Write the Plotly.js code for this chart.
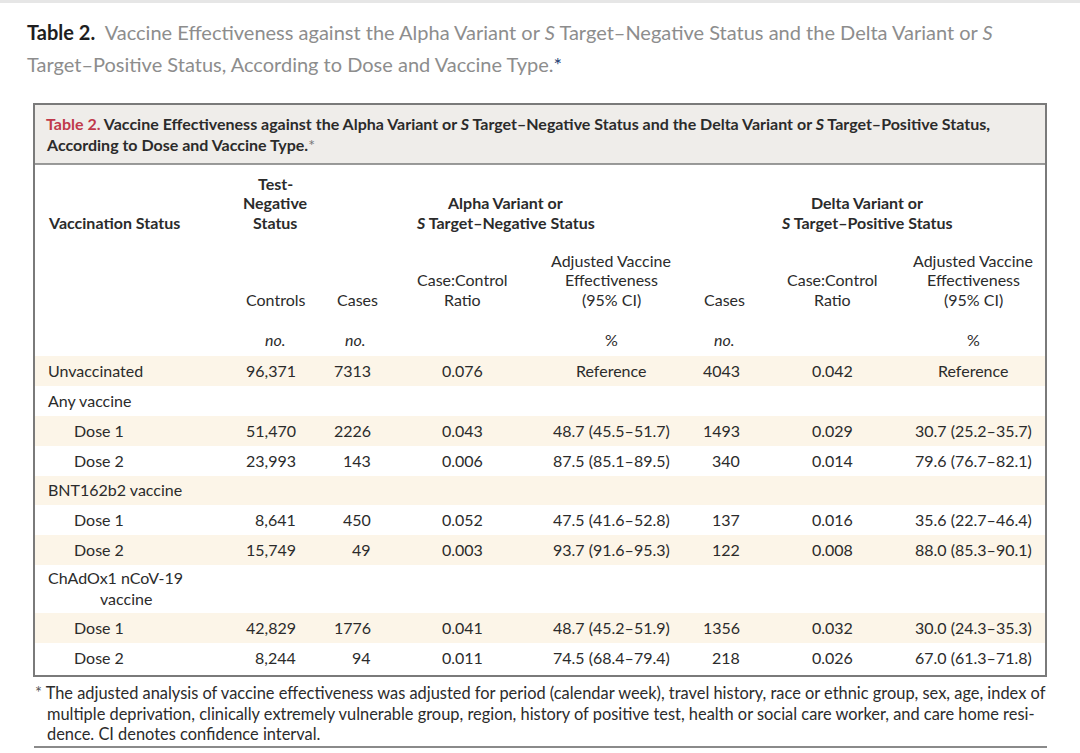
<!DOCTYPE html>
<html>
<head>
<meta charset="utf-8">
<script src="https://cdn.plot.ly/plotly-3.0.1.min.js"></script>
<style>html,body{margin:0;padding:0;background:#fff;}#chart{width:1080px;height:753px;}</style>
</head>
<body>
<div id="chart"></div>
<script>
// ---------- DATA ----------
var rowLabels = ["Unvaccinated","Any vaccine","Dose 1","Dose 2","BNT162b2 vaccine","Dose 1","Dose 2","ChAdOx1 nCoV-19|vaccine","Dose 1","Dose 2"];
var rowIsDose = [false,false,true,true,false,true,true,false,true,true];
var controls   = [96371,null,51470,23993,null,8641,15749,null,42829,8244];
var alphaCases = [7313,null,2226,143,null,450,49,null,1776,94];
var alphaRatio = [0.076,null,0.043,0.006,null,0.052,0.003,null,0.041,0.011];
var alphaVE    = ["ref",null,48.7,87.5,null,47.5,93.7,null,48.7,74.5];
var alphaLo    = [null,null,45.5,85.1,null,41.6,91.6,null,45.2,68.4];
var alphaHi    = [null,null,51.7,89.5,null,52.8,95.3,null,51.9,79.4];
var deltaCases = [4043,null,1493,340,null,137,122,null,1356,218];
var deltaRatio = [0.042,null,0.029,0.014,null,0.016,0.008,null,0.032,0.026];
var deltaVE    = ["ref",null,30.7,79.6,null,35.6,88.0,null,30.0,67.0];
var deltaLo    = [null,null,25.2,76.7,null,22.7,85.3,null,24.3,61.3];
var deltaHi    = [null,null,35.7,82.1,null,46.4,90.1,null,35.3,71.8];

var pageTitle1 = "Vaccine Effectiveness against the Alpha Variant or <i>S</i> Target–Negative Status and the Delta Variant or <i>S</i>";
var pageTitle2 = "Target–Positive Status, According to Dose and Vaccine Type.";
var boxTitle1 = "Vaccine Effectiveness against the Alpha Variant or <i>S</i> Target–Negative Status and the Delta Variant or <i>S</i> Target–Positive Status,";
var boxTitle2 = "According to Dose and Vaccine Type.";
var footnote = ["The adjusted analysis of vaccine effectiveness was adjusted for period (calendar week), travel history, race or ethnic group, sex, age, index of",
  "multiple deprivation, clinically extremely vulnerable group, region, history of positive test, health or social care worker, and care home resi-",
  "dence. CI denotes confidence interval."];

// ---------- LAYOUT HELPERS ----------
var FONT = "Lato, 'Open Sans', sans-serif";
var TXT = "#2b2b2b";
var FS = 16;
var DY = -1;
var rowTop = [356,386,416,446,476,505,535,565,613,643];
var rowBottom = 673;

function fmtComma(v){ return v==null?"":v.toLocaleString("en-US"); }
function fmtPlain(v){ return v==null?"":String(v); }
function fmtRatio(v){ return v==null?"":v.toFixed(3); }
function fmtVE(v,lo,hi){
  if(v==null) return "";
  if(v==="ref") return "Reference";
  return v.toFixed(1)+" ("+lo.toFixed(1)+"–"+hi.toFixed(1)+")";
}

var ann = [];
var shapes = [];
function A(x,y,text,opts){
  var o = {xref:"x",yref:"y",x:x,y:y+DY,text:text,showarrow:false,xanchor:"left",yanchor:"middle",
    font:{family:FONT,size:FS,color:TXT},align:"left"};
  for(var k in opts){ if(k==="font"){ for(var f in opts.font) o.font[f]=opts.font[f]; } else o[k]=opts[k]; }
  ann.push(o);
}
function M(x,yLast,lines,opts){ // multi-line, bottom-aligned, 19.5px spacing
  for(var i=0;i<lines.length;i++){
    A(x,yLast-(lines.length-1-i)*19.5,lines[i],opts);
  }
}

// page top grey strip
shapes.push({type:"rect",xref:"x",yref:"y",x0:0,x1:1080,y0:0,y1:3,fillcolor:"#e6e6e6",line:{width:0},layer:"below"});

// page title
A(25,33,"<b>Table 2.</b>  <span style='color:#8d8d8d'>"+pageTitle1+"</span>",{font:{size:20,color:"#1e1e1e"}});
A(25,65,"<span style='color:#8d8d8d'>"+pageTitle2+"</span><span style='color:#1f3f73'>*</span>",{font:{size:20}});

// box header band
shapes.push({type:"rect",xref:"x",yref:"y",x0:34,x1:1046,y0:104,y1:164,fillcolor:"#efedea",line:{width:0},layer:"below"});
// striped rows
for(var i=0;i<rowTop.length;i++){
  if(i%2===0){
    var yb = (i+1<rowTop.length)?rowTop[i+1]:rowBottom;
    shapes.push({type:"rect",xref:"x",yref:"y",x0:35,x1:1045,y0:rowTop[i],y1:yb,fillcolor:"#fcf5e8",line:{width:0},layer:"below"});
  }
}
// box outline & header rule
shapes.push({type:"rect",xref:"x",yref:"y",x0:34,x1:1046,y0:104,y1:676,fillcolor:"rgba(0,0,0,0)",line:{color:"#7a7a7a",width:2}});
shapes.push({type:"line",xref:"x",yref:"y",x0:34,x1:1046,y0:164,y1:164,line:{color:"#7a7a7a",width:1.5}});
// footnote rule
shapes.push({type:"line",xref:"x",yref:"y",x0:34,x1:1047,y0:747,y1:747,line:{color:"#8a8a8a",width:2}});

// box title
A(44,124,"<b><span style='color:#c0394b'>Table 2.</span> "+boxTitle1+"</b>",{font:{size:16}});
A(44,145,"<b>"+boxTitle2+"</b><span style='color:#777'>*</span>",{font:{size:16}});

// column headers
A(46,223,"<b>Vaccination Status</b>");
M(275,223,["<b>Test-</b>","<b>Negative</b>","<b>Status</b>"],{xanchor:"center"});
M(505,223,["<b>Alpha Variant or</b>","<b><i>S</i> Target–Negative Status</b>"],{xanchor:"center"});
M(867,223,["<b>Delta Variant or</b>","<b><i>S</i> Target–Positive Status</b>"],{xanchor:"center"});

var sub = [[275,["Controls"]],[357,["Cases"]],[462,["Case:Control","Ratio"]],[611,["Adjusted Vaccine","Effectiveness","(95% CI)"]],
           [724,["Cases"]],[832,["Case:Control","Ratio"]],[973,["Adjusted Vaccine","Effectiveness","(95% CI)"]]];
sub.forEach(function(s){ M(s[0],300,s[1],{xanchor:"center"}); });
var units = [[275,"<i>no.</i>"],[355,"<i>no.</i>"],[611,"%"],[724,"<i>no.</i>"],[973,"%"]];
units.forEach(function(u){ A(u[0],340,u[1],{xanchor:"center"}); });

// body rows
for(var r=0;r<rowLabels.length;r++){
  var yb2 = (r+1<rowTop.length)?rowTop[r+1]:rowBottom;
  var yc = (rowTop[r]+yb2)/2;
  var parts = rowLabels[r].split("|");
  if(parts.length>1){
    A(46,yc-11,parts[0]);
    A(98,yc+10,parts[1]);
  } else {
    A(rowIsDose[r]?72:46,yc,parts[0]);
  }
  A(298,yc,fmtComma(controls[r]),{xanchor:"right"});
  A(373,yc,fmtPlain(alphaCases[r]),{xanchor:"right"});
  A(462,yc,fmtRatio(alphaRatio[r]),{xanchor:"center"});
  A(611,yc,fmtVE(alphaVE[r],alphaLo[r],alphaHi[r]),{xanchor:"center"});
  A(742,yc,fmtPlain(deltaCases[r]),{xanchor:"right"});
  A(832,yc,fmtRatio(deltaRatio[r]),{xanchor:"center"});
  A(973,yc,fmtVE(deltaVE[r],deltaLo[r],deltaHi[r]),{xanchor:"center"});
}

// footnote
A(33,693,"<span style='color:#555'>*</span> "+footnote[0],{font:{size:16.4}});
A(45,714,footnote[1],{font:{size:16.4}});
A(45,734,footnote[2],{font:{size:16.4}});

var layout = {
  width:1080,height:753,
  margin:{l:0,r:0,t:0,b:0},
  paper_bgcolor:"#ffffff",plot_bgcolor:"#ffffff",
  xaxis:{range:[0,1080],visible:false,fixedrange:true},
  yaxis:{range:[753,0],visible:false,fixedrange:true},
  showlegend:false,
  shapes:shapes,
  annotations:ann
};
Plotly.newPlot("chart",[{type:"scatter",x:[],y:[],hoverinfo:"skip"}],layout,{staticPlot:true,displayModeBar:false});
</script>
</body>
</html>
